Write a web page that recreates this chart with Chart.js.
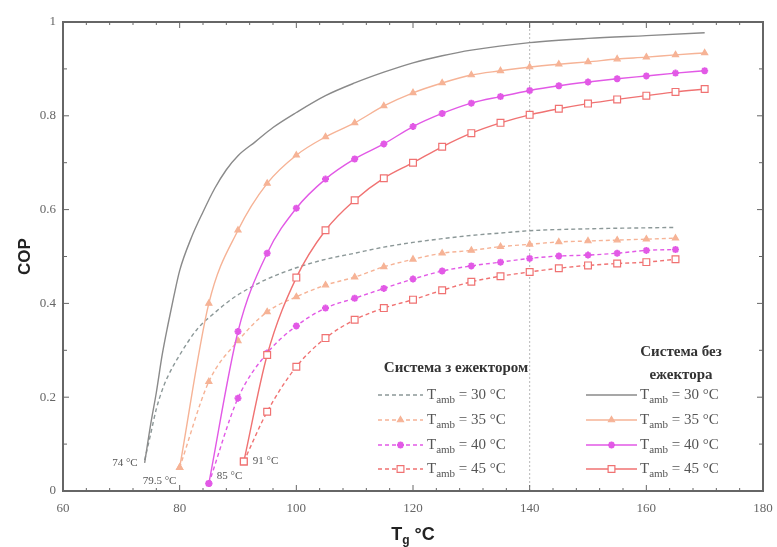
<!DOCTYPE html>
<html>
<head>
<meta charset="utf-8">
<title>COP vs Tg</title>
<script src="https://cdn.jsdelivr.net/npm/chart.js@4.4.1/dist/chart.umd.min.js"></script>
<style>
  html, body { margin: 0; padding: 0; background: #fff; }
  #wrap { width: 777px; height: 547px; position: relative; }
</style>
</head>
<body>
<div id="wrap"><canvas id="copChart"></canvas></div>
<script>
/* ===============================
   Data
   =============================== */
const xTicks = [60, 80, 100, 120, 140, 160, 180];
const yTicks = [0, 0.2, 0.4, 0.6, 0.8, 1];

// without ejector (solid)
const tg30 = [74, 75, 76, 77, 78, 79, 80, 82, 84, 86, 88, 90, 93, 96, 100, 105, 110, 115, 120, 125, 130, 140, 150, 160, 170];
const cop30 = [0.06, 0.14, 0.21, 0.29, 0.355, 0.415, 0.47, 0.54, 0.595, 0.645, 0.685, 0.715, 0.745, 0.775, 0.807, 0.843, 0.87, 0.893, 0.913, 0.928, 0.94, 0.956, 0.965, 0.971, 0.977];

const tg35 = [80, 85, 90, 95, 100, 105, 110, 115, 120, 125, 130, 135, 140, 145, 150, 155, 160, 165, 170];
const cop35 = [0.05, 0.40, 0.556, 0.656, 0.716, 0.755, 0.785, 0.821, 0.849, 0.87, 0.887, 0.896, 0.904, 0.91, 0.915, 0.921, 0.925, 0.93, 0.934];

const tg40 = [85, 90, 95, 100, 105, 110, 115, 120, 125, 130, 135, 140, 145, 150, 155, 160, 165, 170];
const cop40 = [0.016, 0.34, 0.507, 0.603, 0.665, 0.708, 0.74, 0.777, 0.805, 0.827, 0.841, 0.854, 0.864, 0.872, 0.879, 0.885, 0.891, 0.896];

const tg45 = [91, 95, 100, 105, 110, 115, 120, 125, 130, 135, 140, 145, 150, 155, 160, 165, 170];
const cop45 = [0.063, 0.29, 0.455, 0.556, 0.62, 0.667, 0.70, 0.734, 0.763, 0.785, 0.802, 0.815, 0.826, 0.835, 0.843, 0.851, 0.857];

// with ejector (dashed)
const tg30e = [74, 75, 76, 77, 78, 80, 83, 86, 89, 92, 95, 100, 105, 110, 115, 120, 125, 130, 135, 140, 150, 165];
const cop30e = [0.066, 0.12, 0.175, 0.215, 0.245, 0.29, 0.345, 0.38, 0.41, 0.433, 0.452, 0.476, 0.494, 0.507, 0.52, 0.53, 0.538, 0.545, 0.55, 0.555, 0.559, 0.562];

const tg35e = [80, 85, 90, 95, 100, 105, 110, 115, 120, 125, 130, 135, 140, 145, 150, 155, 160, 165];
const cop35e = [0.05, 0.233, 0.32, 0.382, 0.414, 0.439, 0.456, 0.478, 0.494, 0.507, 0.513, 0.521, 0.526, 0.531, 0.533, 0.535, 0.537, 0.539];

const tg40e = [85, 90, 95, 100, 105, 110, 115, 120, 125, 130, 135, 140, 145, 150, 155, 160, 165];
const cop40e = [0.016, 0.198, 0.294, 0.352, 0.39, 0.411, 0.432, 0.452, 0.469, 0.48, 0.488, 0.496, 0.501, 0.503, 0.507, 0.513, 0.515];

const tg45e = [91, 95, 100, 105, 110, 115, 120, 125, 130, 135, 140, 145, 150, 155, 160, 165];
const cop45e = [0.063, 0.169, 0.265, 0.326, 0.365, 0.39, 0.408, 0.428, 0.446, 0.458, 0.467, 0.475, 0.481, 0.485, 0.488, 0.494];

// vertical reference line
const refX = [140, 140];
const refY = [0, 1];

const tambLabels = ["30", "35", "40", "45"];
const startLabels = ["74 °C", "79.5 °C", "85 °C", "91 °C"];
const legendTitleEj = "Система з ежектором";
const legendTitleNoEj = ["Система без", "ежектора"];

/* ===============================
   Helpers
   =============================== */
const pts = (xs, ys) => xs.map((x, i) => ({ x, y: ys[i] }));

const SERIF = '"Liberation Serif", "DejaVu Serif", serif';
const SANS = '"Liberation Sans", Arial, sans-serif';

const colGray = "#8a8a8a";
const colGrayD = "#8c9898";
const colOrange = "#f6b396";
const colMagenta = "#e259e6";
const colRed = "#f07272";

function series(label, data, color, dash, style, radius, fill) {
  return {
    label,
    data,
    parsing: false,
    borderColor: color,
    backgroundColor: fill || color,
    borderWidth: 1.4,
    borderDash: dash,
    cubicInterpolationMode: "monotone",
    pointStyle: style || "circle",
    pointRadius: style ? radius : 0,
    pointBorderColor: color,
    pointBackgroundColor: fill || color,
    pointBorderWidth: style === "star" ? 2 : 1.2,
    clip: false
  };
}

const DASH = [4, 3];

const datasets = [
  series("noej30", pts(tg30, cop30), colGray, [], null),
  series("noej35", pts(tg35, cop35), colOrange, [], "triangle", 3.5),
  series("noej40", pts(tg40, cop40), colMagenta, [], "star", 3.5),
  series("noej45", pts(tg45, cop45), colRed, [], "rect", 4.8, "#ffffff"),
  series("ej30", pts(tg30e, cop30e), colGrayD, DASH, null),
  series("ej35", pts(tg35e, cop35e), colOrange, DASH, "triangle", 3.5),
  series("ej40", pts(tg40e, cop40e), colMagenta, DASH, "star", 3.5),
  series("ej45", pts(tg45e, cop45e), colRed, DASH, "rect", 4.8, "#ffffff"),
  {
    label: "ref",
    data: pts(refX, refY),
    parsing: false,
    borderColor: "#b8b8b8",
    borderWidth: 1,
    borderDash: [2, 2],
    pointRadius: 0
  }
];

/* ===============================
   Frame, ticks, labels, legend
   =============================== */
function drawTamb(ctx, x, y, temp) {
  ctx.fillStyle = "#555";
  ctx.textAlign = "left";
  ctx.textBaseline = "middle";
  ctx.font = "15px " + SERIF;
  ctx.fillText("T", x, y);
  let w = ctx.measureText("T").width;
  ctx.font = "11px " + SERIF;
  ctx.fillText("amb", x + w, y + 5);
  w += ctx.measureText("amb").width;
  ctx.font = "15px " + SERIF;
  ctx.fillText(" = " + temp + " °C", x + w, y);
}

function drawSample(ctx, ds, x1, x2, y) {
  ctx.save();
  ctx.strokeStyle = ds.borderColor;
  ctx.lineWidth = ds.borderWidth;
  ctx.setLineDash(ds.borderDash || []);
  ctx.beginPath();
  ctx.moveTo(x1, y);
  ctx.lineTo(x2, y);
  ctx.stroke();
  ctx.setLineDash([]);
  if (ds.pointRadius > 0) {
    ctx.fillStyle = ds.pointBackgroundColor;
    ctx.strokeStyle = ds.pointBorderColor;
    ctx.lineWidth = ds.pointBorderWidth;
    Chart.helpers.drawPoint(ctx, {
      pointStyle: ds.pointStyle,
      radius: ds.pointRadius,
      rotation: 0,
      borderWidth: ds.pointBorderWidth
    }, (x1 + x2) / 2, y);
  }
  ctx.restore();
}

const decorPlugin = {
  id: "decor",
  afterDraw(chart) {
    const { ctx, chartArea: a, scales } = chart;
    const xs = scales.x, ys = scales.y;

    ctx.save();
    // frame
    ctx.strokeStyle = "#666";
    ctx.lineWidth = 2;
    ctx.strokeRect(a.left, a.top, a.right - a.left, a.bottom - a.top);

    // inward ticks
    ctx.lineWidth = 1;
    ctx.beginPath();
    for (let v = 60; v <= 180; v += 4) {
      const px = xs.getPixelForValue(v);
      const len = (v - 60) % 20 === 0 ? 6 : 3;
      ctx.moveTo(px, a.bottom); ctx.lineTo(px, a.bottom - len);
      ctx.moveTo(px, a.top); ctx.lineTo(px, a.top + len);
    }
    for (let i = 0; i <= 10; i++) {
      const py = ys.getPixelForValue(i / 10);
      const len = i % 2 === 0 ? 6 : 4;
      ctx.moveTo(a.left, py); ctx.lineTo(a.left + len, py);
      ctx.moveTo(a.right, py); ctx.lineTo(a.right - len, py);
    }
    ctx.stroke();

    // axis titles
    ctx.fillStyle = "#222";
    ctx.font = "bold 17px " + SANS;
    ctx.save();
    ctx.translate(25, (a.top + a.bottom) / 2);
    ctx.rotate(-Math.PI / 2);
    ctx.textAlign = "center";
    ctx.textBaseline = "middle";
    ctx.fillText("COP", 0, 0);
    ctx.restore();

    ctx.textBaseline = "middle";
    ctx.textAlign = "left";
    ctx.font = "bold 18px " + SANS;
    const tW = ctx.measureText("T").width;
    ctx.font = "bold 12px " + SANS;
    const gW = ctx.measureText("g").width;
    ctx.font = "bold 18px " + SANS;
    const cW = ctx.measureText(" °C").width;
    let tx = (a.left + a.right) / 2 - (tW + gW + cW) / 2;
    const ty = 535;
    ctx.fillText("T", tx, ty);
    ctx.font = "bold 12px " + SANS;
    ctx.fillText("g", tx + tW, ty + 6);
    ctx.font = "bold 18px " + SANS;
    ctx.fillText(" °C", tx + tW + gW, ty);

    // start temperature labels
    ctx.font = "11px " + SERIF;
    ctx.fillStyle = "#555";
    const p30 = [xs.getPixelForValue(tg30[0]), ys.getPixelForValue(cop30[0])];
    const p35 = [xs.getPixelForValue(tg35[0]), ys.getPixelForValue(cop35[0])];
    const p40 = [xs.getPixelForValue(tg40[0]), ys.getPixelForValue(cop40[0])];
    const p45 = [xs.getPixelForValue(tg45[0]), ys.getPixelForValue(cop45[0])];
    ctx.textAlign = "right";
    ctx.fillText(startLabels[0], p30[0] - 7, p30[1]);
    ctx.textAlign = "left";
    ctx.fillText(startLabels[1], p35[0] - 37, p35[1] + 14);
    ctx.fillText(startLabels[2], p40[0] + 8, p40[1] - 7);
    ctx.fillText(startLabels[3], p45[0] + 9, p45[1]);

    // legend
    ctx.fillStyle = "#333";
    ctx.textAlign = "center";
    ctx.font = "bold 15px " + SERIF;
    ctx.fillText(legendTitleEj, 456, 368);
    ctx.fillText(legendTitleNoEj[0], 681, 352);
    ctx.fillText(legendTitleNoEj[1], 681, 375);

    const rowY = [395, 420, 445, 469];
    for (let i = 0; i < 4; i++) {
      drawSample(ctx, chart.data.datasets[4 + i], 378, 423, rowY[i]);
      drawTamb(ctx, 427, rowY[i], tambLabels[i]);
      drawSample(ctx, chart.data.datasets[i], 586, 637, rowY[i]);
      drawTamb(ctx, 640, rowY[i], tambLabels[i]);
    }
    ctx.restore();
  }
};

/* ===============================
   Build chart
   =============================== */
new Chart(document.getElementById("copChart").getContext("2d"), {
  type: "line",
  data: { datasets },
  options: {
    responsive: true,
    maintainAspectRatio: false,
    animation: false,
    layout: { padding: { left: 0, right: 14, top: 22, bottom: 0 } },
    plugins: {
      legend: { display: false },
      tooltip: { enabled: false }
    },
    scales: {
      x: {
        type: "linear",
        min: 60,
        max: 180,
        afterFit: s => { s.height = 56; s.paddingLeft = 0; s.paddingRight = 0; },
        afterBuildTicks: s => { s.ticks = xTicks.map(v => ({ value: v })); },
        grid: { display: false, drawTicks: false },
        border: { display: false },
        ticks: {
          padding: 10,
          color: "#666",
          font: { family: SERIF, size: 13 },
          maxRotation: 0,
          autoSkip: false
        }
      },
      y: {
        min: 0,
        max: 1,
        afterFit: s => { s.width = 63; s.paddingTop = 0; s.paddingBottom = 0; },
        afterBuildTicks: s => { s.ticks = yTicks.map(v => ({ value: v })); },
        grid: { display: false, drawTicks: false },
        border: { display: false },
        ticks: {
          padding: 7,
          color: "#666",
          font: { family: SERIF, size: 13 },
          callback: v => String(+Number(v).toFixed(1))
        }
      }
    }
  },
  plugins: [decorPlugin]
});
</script>
</body>
</html>
